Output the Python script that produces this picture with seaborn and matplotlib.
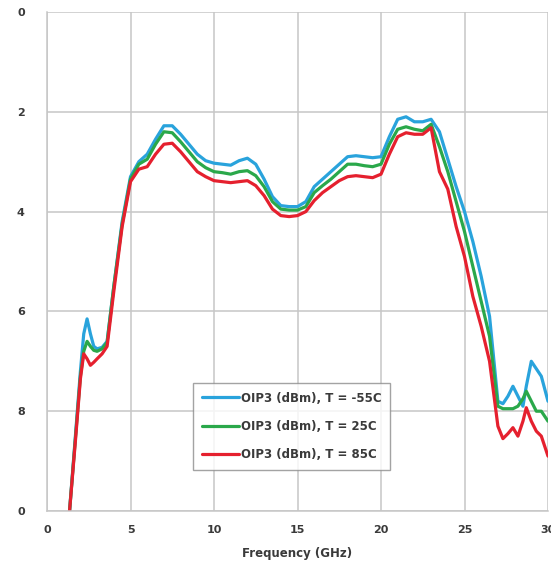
import numpy as np
import pandas as pd
import seaborn as sns
import matplotlib.pyplot as plt

# frequency points (GHz) shared by all three curves
freq = [1.35, 1.7, 2.0, 2.2, 2.4, 2.6, 2.8, 3.0, 3.3, 3.6, 4.0, 4.5, 5.0, 5.5, 6.0, 6.5,
        7.0, 7.5, 8.0, 8.5, 9.0, 9.5, 10.0, 10.5, 11.0, 11.5, 12.0, 12.5, 13.0, 13.5,
        14.0, 14.5, 15.0, 15.5, 16.0, 16.5, 17.0, 17.5, 18.0, 18.5, 19.0, 19.5, 20.0,
        20.5, 21.0, 21.5, 22.0, 22.5, 23.0, 23.5, 24.0, 24.5, 25.0, 25.5, 26.0, 26.5,
        27.0, 27.3, 27.6, 27.9, 28.2, 28.5, 28.7, 29.0, 29.3, 29.6, 30.0]

oip3_m55 = [10.0, 8.5, 7.2, 6.45, 6.15, 6.45, 6.7, 6.75, 6.72, 6.6, 5.5, 4.2, 3.3, 3.0, 2.85, 2.55,
            2.28, 2.28, 2.45, 2.65, 2.85, 2.98, 3.03, 3.05, 3.07, 2.98, 2.93, 3.05, 3.35, 3.7,
            3.88, 3.9, 3.9, 3.8, 3.5, 3.35, 3.2, 3.05, 2.9, 2.88, 2.9, 2.92, 2.9,
            2.5, 2.15, 2.1, 2.2, 2.2, 2.15, 2.4, 2.95, 3.5, 4.0, 4.6, 5.3, 6.1,
            7.8, 7.85, 7.7, 7.5, 7.7, 7.9, 7.5, 7.0, 7.15, 7.3, 7.8]

oip3_25 = [10.0, 8.55, 7.3, 6.8, 6.6, 6.7, 6.78, 6.8, 6.75, 6.62, 5.5, 4.25, 3.35, 3.05, 2.95, 2.65,
           2.4, 2.42, 2.6, 2.8, 3.0, 3.12, 3.2, 3.22, 3.25, 3.2, 3.18, 3.28, 3.5, 3.8,
           3.95, 3.97, 3.97, 3.9, 3.62, 3.48, 3.35, 3.2, 3.05, 3.05, 3.08, 3.1, 3.05,
           2.65, 2.35, 2.3, 2.35, 2.38, 2.25, 2.7, 3.2, 3.8, 4.4, 5.1, 5.8, 6.5,
           7.9, 7.95, 7.95, 7.95, 7.9, 7.75, 7.6, 7.8, 8.0, 8.0, 8.2]

oip3_85 = [10.0, 8.6, 7.35, 6.85, 6.95, 7.08, 7.02, 6.95, 6.85, 6.7, 5.6, 4.3, 3.4, 3.15, 3.1, 2.85,
           2.65, 2.63, 2.8, 3.0, 3.2, 3.3, 3.38, 3.4, 3.42, 3.4, 3.38, 3.48, 3.68, 3.95,
           4.08, 4.1, 4.08, 4.0, 3.78, 3.62, 3.5, 3.38, 3.3, 3.28, 3.3, 3.32, 3.25,
           2.85, 2.5, 2.42, 2.45, 2.45, 2.32, 3.2, 3.55, 4.3, 4.9, 5.7, 6.3, 7.0,
           8.3, 8.55, 8.45, 8.33, 8.5, 8.2, 7.93, 8.2, 8.4, 8.5, 8.9]

labels = ["OIP3 (dBm), T = -55C", "OIP3 (dBm), T = 25C", "OIP3 (dBm), T = 85C"]
colors = ["#29a3dc", "#2aa84a", "#e5202e"]

y_ticks = [0, 2, 4, 6, 8, 10]
y_ticklabels = ["0", "2", "4", "6", "8", "0"]
x_ticks = [0, 5, 10, 15, 20, 25, 30]

df = pd.concat([
    pd.DataFrame({"freq": freq, "oip3": oip3_m55, "series": labels[0]}),
    pd.DataFrame({"freq": freq, "oip3": oip3_25, "series": labels[1]}),
    pd.DataFrame({"freq": freq, "oip3": oip3_85, "series": labels[2]}),
])

sns.set_style("white")
plt.rcParams['font.family'] = ['DejaVu Sans']

fig = plt.figure(figsize=(5.51, 5.67), dpi=100)
ax = fig.add_axes([47/551, 1 - 511/567, 501/551, 499/567])

sns.lineplot(data=df, x="freq", y="oip3", hue="series", palette=colors,
             linewidth=2.3, sort=False, estimator=None, ax=ax)

ax.set_xlim(0, 30)
ax.set_ylim(10, 0)
ax.set_xticks(x_ticks)
ax.set_yticks(y_ticks)
ax.set_yticklabels(y_ticklabels)
ax.grid(True, color="#c6c6c6", linewidth=1.1)
ax.set_axisbelow(True)
for s in ["top", "right"]:
    ax.spines[s].set_visible(False)
for s in ["left", "bottom"]:
    ax.spines[s].set_color("#c6c6c6")
    ax.spines[s].set_linewidth(1.1)
ax.tick_params(axis="both", direction="out", length=4, color="#c6c6c6",
               labelsize=8, pad=6)
ax.tick_params(axis="y", pad=12)
for t in ax.get_xticklabels() + ax.get_yticklabels():
    t.set_fontweight("bold")
    t.set_color("#3a3a3a")
ax.set_xlabel("Frequency (GHz)", fontsize=8.5, fontweight="bold", color="#3a3a3a", labelpad=9)
ax.set_ylabel("")

leg = ax.legend(loc="upper left", bbox_to_anchor=(0.291, 0.257), frameon=True,
                fancybox=False, fontsize=8.5, handlelength=3.2, handletextpad=0.1,
                labelspacing=1.3, borderpad=0.75, borderaxespad=0)
leg.get_frame().set_edgecolor("#8c8c8c")
leg.get_frame().set_linewidth(1.0)
for t in leg.get_texts():
    t.set_fontweight("bold")
    t.set_color("#3a3a3a")

fig.savefig("out.png", dpi=100)
